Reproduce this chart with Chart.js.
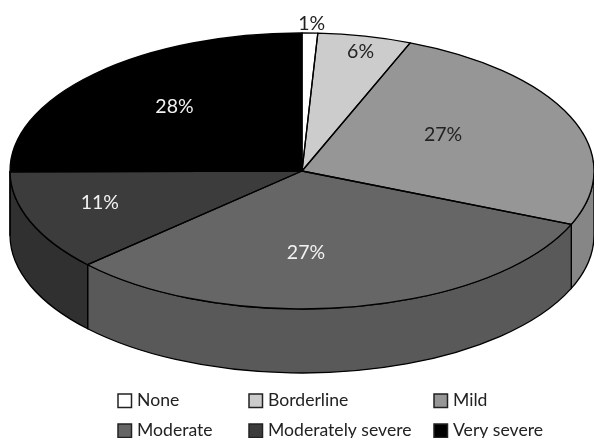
<!DOCTYPE html>
<html>
<head>
<meta charset="utf-8">
<title>Severity</title>
<script src="https://cdn.jsdelivr.net/npm/chart.js@4"></script>
<style>
  html, body { margin: 0; padding: 0; background: #fff; overflow: hidden; }
  canvas { display: block; }
</style>
</head>
<body>
<canvas id="pie" width="594" height="438"></canvas>
<script>
const categories = ['None', 'Borderline', 'Mild', 'Moderate', 'Moderately severe', 'Very severe'];
const shares = [1, 6, 27, 27, 11, 28];
const sliceColors = ['#ffffff', '#cccccc', '#969696', '#666666', '#3c3c3c', '#000000'];
const wallColors = ['#e0e0e0', '#b4b4b4', '#868686', '#595959', '#303030', '#000000'];
const labelColors = ['#222222', '#222222', '#222222', '#f2f2f2', '#f2f2f2', '#f2f2f2'];
// how far out each percentage sits, as a fraction of the radius
const labelRadius = [1.09, 0.885, 0.55, 0.59, 0.73, 0.64];
// small hand adjustments to the percentages, in px
const labelNudge = [[1, 3], [3, 0], [-7, -7], [-26, 2], [-4, -5], [5, -2]];

const FONT = 'Lato, sans-serif';
const CX = 302, CY = 171, RX = 292, RY = 138, DEPTH = 64;
const TILT = RY / RX;
// front slices open up, back slices close in
const FORESHORTEN = 0.178, SKEW = 0.02;

const TAU = Math.PI * 2;

// chart angles start at 3 o'clock, the pie starts at 12
function foreshorten(angle) {
    const theta = angle + Math.PI / 2;
    return theta - FORESHORTEN * Math.sin(theta) + SKEW * Math.sin(2 * theta) - Math.PI / 2;
}

// Side wall of one slice, only where it faces the viewer (0..PI)
function drawWall(ctx, start, end, fill) {
    [0, TAU].forEach(shift => {
        const a0 = Math.max(start, shift);
        const a1 = Math.min(end, shift + Math.PI);
        if (a1 <= a0) return;
        ctx.beginPath();
        ctx.ellipse(CX, CY, RX, RY, 0, a0, a1);
        ctx.ellipse(CX, CY + DEPTH, RX, RY, 0, a1, a0, true);
        ctx.closePath();
        ctx.fillStyle = fill;
        ctx.fill();
        ctx.stroke();
    });
}

const tiltedPie = {
    id: 'tiltedPie',
    afterDatasetsUpdate(chart) {
        chart.getDatasetMeta(0).data.forEach(arc => {
            arc.startAngle = foreshorten(arc.startAngle);
            arc.endAngle = foreshorten(arc.endAngle);
        });
    },
    beforeDatasetsDraw(chart) {
        const ctx = chart.ctx;
        const arcs = chart.getDatasetMeta(0).data;
        ctx.save();
        ctx.strokeStyle = '#000';
        ctx.lineWidth = 1.3;
        arcs.forEach((arc, i) => drawWall(ctx, arc.startAngle, arc.endAngle, wallColors[i]));
        ctx.restore();

        // squash the library's round pie into the top face
        ctx.save();
        ctx.translate(CX, CY);
        ctx.scale(1, TILT);
        ctx.translate(-arcs[0].x, -arcs[0].y);
    },
    afterDatasetsDraw(chart) {
        const ctx = chart.ctx;
        ctx.restore();
        ctx.save();
        ctx.strokeStyle = '#000';
        ctx.lineWidth = 1.3;
        ctx.lineJoin = 'round';
        chart.getDatasetMeta(0).data.forEach(arc => {
            ctx.beginPath();
            ctx.moveTo(CX, CY);
            ctx.ellipse(CX, CY, RX, RY, 0, arc.startAngle, arc.endAngle);
            ctx.closePath();
            ctx.stroke();
        });
        ctx.restore();
    },
    afterDraw(chart) {
        const ctx = chart.ctx;
        ctx.save();
        ctx.font = '19.5px ' + FONT;
        ctx.textAlign = 'center';
        ctx.textBaseline = 'middle';
        chart.getDatasetMeta(0).data.forEach((arc, i) => {
            const mid = (arc.startAngle + arc.endAngle) / 2;
            const f = labelRadius[i];
            ctx.fillStyle = labelColors[i];
            ctx.fillText(shares[i] + '%',
                CX + RX * f * Math.cos(mid) + labelNudge[i][0],
                CY + RY * f * Math.sin(mid) + labelNudge[i][1]);
        });
        ctx.restore();
    }
};

// Two rows of three, columns sized to the longest names
const squareLegend = {
    id: 'squareLegend',
    afterDraw(chart) {
        const ctx = chart.ctx;
        const columns = [118, 249, 434];
        const rows = [394, 424];
        ctx.save();
        ctx.font = '17.6px ' + FONT;
        ctx.textBaseline = 'alphabetic';
        categories.forEach((name, i) => {
            const x = columns[i % 3];
            const y = rows[Math.floor(i / 3)];
            ctx.fillStyle = sliceColors[i];
            ctx.strokeStyle = '#222';
            ctx.lineWidth = 1.5;
            ctx.fillRect(x, y, 13.5, 13.5);
            ctx.strokeRect(x, y, 13.5, 13.5);
            ctx.fillStyle = '#222';
            ctx.fillText(name, x + 19, y + 12);
        });
        ctx.restore();
    }
};

new Chart(document.getElementById('pie'), {
    type: 'pie',
    data: {
        labels: categories,
        datasets: [{
            data: shares,
            backgroundColor: sliceColors,
            borderWidth: 0,
            radius: RX,
            clip: false
        }]
    },
    options: {
        responsive: false,
        animation: false,
        plugins: {
            legend: { display: false },
            tooltip: { enabled: false }
        }
    },
    plugins: [tiltedPie, squareLegend]
});
</script>
</body>
</html>
